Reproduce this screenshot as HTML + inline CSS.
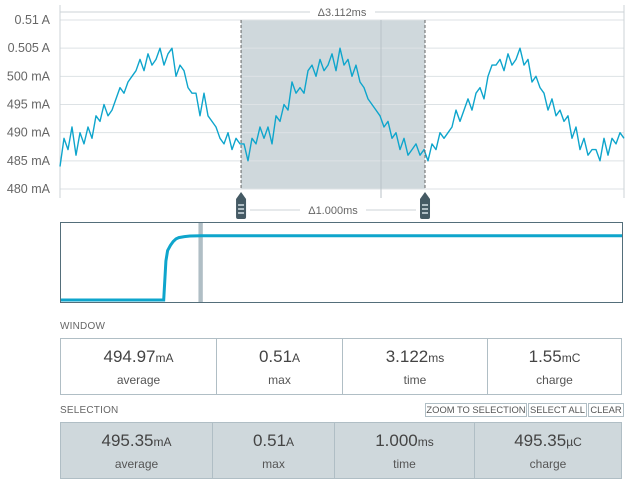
<!DOCTYPE html>
<html><head><meta charset="utf-8">
<style>
body{margin:0;width:643px;height:490px;background:#fff;font-family:"Liberation Sans",sans-serif;position:relative;overflow:hidden;color:#555}
svg{position:absolute;left:0;top:0}
.lbl{position:absolute;font-size:10px;color:#666;letter-spacing:.2px}
.box{position:absolute;left:60px;width:562px;border:1px solid #b0bec5;display:flex;box-sizing:border-box}
.cell{border-right:1px solid #b0bec5;text-align:center;box-sizing:border-box}
.cell:last-child{border-right:none}
.v{font-size:17px;color:#444;margin-top:8px;line-height:20px}
.v small{font-size:12px}
.n{font-size:12px;color:#555;margin-top:5px}
.btns{position:absolute;left:424px;top:403px;height:14px;display:flex}
.btn{border:1px solid #b0bec5;font-size:9.4px;color:#555;line-height:12px;margin-left:1px;background:#fff;box-sizing:border-box;text-align:center;white-space:nowrap;overflow:hidden}
</style></head><body>
<svg id="chart" width="643" height="310"></svg>
<div class="lbl" style="left:60px;top:321px">WINDOW</div>
<div class="box" style="top:338px;height:57px">
 <div class="cell" style="width:156px"><div class="v">494.97<small>mA</small></div><div class="n">average</div></div>
 <div class="cell" style="width:126px"><div class="v">0.51<small>A</small></div><div class="n">max</div></div>
 <div class="cell" style="width:145px"><div class="v">3.122<small>ms</small></div><div class="n">time</div></div>
 <div class="cell" style="flex:1"><div class="v">1.55<small>mC</small></div><div class="n">charge</div></div>
</div>
<div class="lbl" style="left:60px;top:405px">SELECTION</div>
<div class="btns">
 <div class="btn" style="width:102px">ZOOM TO SELECTION</div>
 <div class="btn" style="width:59px">SELECT ALL</div>
 <div class="btn" style="width:36px">CLEAR</div>
</div>
<div class="box" style="top:422px;height:57px;background:#cfd8dc">
 <div class="cell" style="width:152px"><div class="v">495.35<small>mA</small></div><div class="n">average</div></div>
 <div class="cell" style="width:122px"><div class="v">0.51<small>A</small></div><div class="n">max</div></div>
 <div class="cell" style="width:140px"><div class="v">1.000<small>ms</small></div><div class="n">time</div></div>
 <div class="cell" style="flex:1"><div class="v">495.35<small>µC</small></div><div class="n">charge</div></div>
</div>
<script>
const yTicks=[480,485,490,495,500,505,510];
const yTickLabels=["480 mA","485 mA","490 mA","495 mA","500 mA","0.505 A","0.51 A"];
const windowMs=3.112;
const selStartMs=0.999, selEndMs=2.014;
const currentMa=[484,489,487,491,486,490,488,491,489,493,492,495,493,494,496,498,497,499,500,501,503,501,504,502,503,505,502,504,505,500,502,501,498,497,497,493,497,493,492,491,489,488,490,487,489,488,488,485,489,488,491,489,491,488,493,492,495,494,499,497,498,497,501,502,500,503,501,502,504,501,505,502,503,500,502,499,498,496,495,494,493,491,492,489,490,487,489,486,487,488,486,487,485,488,487,490,489,490,491,494,492,494,496,494,497,498,496,500,502,502,503,501,504,502,503,505,502,503,499,500,498,497,494,496,493,494,492,493,489,491,487,489,486,487,487,485,489,486,489,488,490,489];
const miniTimes=[0,0.183,0.187,0.19,0.195,0.2,0.205,0.21,0.22,0.23,0.25,0.3,0.4,0.5,0.6,0.7,0.8,0.9,1.0];
const miniValues=[0,0,300,380,420,450,470,480,488,492,494,495,495,494,495,495,494,495,494];
const miniViewStart=0.245, miniViewEnd=0.251;

const NS="http://www.w3.org/2000/svg";
const svg=document.getElementById('chart');
function mk(tag,attrs,name,inter){const e=document.createElementNS(NS,tag);for(const k in attrs)e.setAttribute(k,attrs[k]);


svg.appendChild(e);return e;}
const X0=60,X1=624,Y0=189,Y1=20;
const xS=t=>X0+t/windowMs*(X1-X0);
const yS=v=>Y0-(v-480)/30*(Y0-Y1);
mk('rect',{x:xS(selStartMs),y:Y1,width:xS(selEndMs)-xS(selStartMs),height:Y0-Y1,fill:'#cfd8dc'},'selection-area','true');
yTicks.forEach((v,i)=>{
 mk('line',{x1:X0,x2:X1,y1:yS(v),y2:yS(v),stroke:'#dde2e5','stroke-width':1},'y-gridline','false');
 const t=mk('text',{x:50,y:yS(v)+4,'text-anchor':'end','font-size':12.5,fill:'#666','font-family':'Liberation Sans'},'y-tick-label','false');t.textContent=yTickLabels[i];
});
mk('line',{x1:381,x2:381,y1:Y1,y2:198,stroke:'#b8c2c7'},'x-gridline','false');
mk('line',{x1:X0,x2:X0,y1:5,y2:198,stroke:'#ccd3d7'},'y-axis','false');
mk('line',{x1:X1,x2:X1,y1:5,y2:198,stroke:'#ccd3d7'},'right-border','false');
mk('line',{x1:X0,x2:310,y1:12,y2:12,stroke:'#ccd3d7'},'window-span-line','false');
mk('line',{x1:375,x2:X1,y1:12,y2:12,stroke:'#ccd3d7'},'window-span-line','false');
let t=mk('text',{x:342,y:16,'text-anchor':'middle','font-size':11,fill:'#666','font-family':'Liberation Sans'},'window-duration-label','false');t.textContent='Δ3.112ms';
const step=windowMs/(currentMa.length-1);
mk('polyline',{points:currentMa.map((v,i)=>xS(i*step).toFixed(1)+','+yS(v).toFixed(1)).join(' '),fill:'none',stroke:'#0ea5cc','stroke-width':1.4,'stroke-linejoin':'round'},'current-series','false');
[selStartMs,selEndMs].forEach((s,i)=>{
 const x=xS(s);
 mk('line',{x1:x,x2:x,y1:Y1,y2:Y0,stroke:'#666','stroke-dasharray':'3,2'},'cursor-line','false');
 mk('path',{d:`M${x} ${Y0+3} L${x+5} ${Y0+10} L${x+5} ${Y0+28} Q${x+5} ${Y0+30} ${x+3} ${Y0+30} L${x-3} ${Y0+30} Q${x-5} ${Y0+30} ${x-5} ${Y0+28} L${x-5} ${Y0+10} Z`,fill:'#455a64'},i?'right-cursor-handle':'left-cursor-handle','true');
 for(let k=0;k<3;k++)mk('rect',{x:x-3,y:Y0+15+k*4,width:6,height:2,fill:'#b0bec5'},'handle-grip','false');
});
mk('line',{x1:250,x2:300,y1:210,y2:210,stroke:'#ccd3d7'},'selection-span-line','false');
mk('line',{x1:366,x2:416,y1:210,y2:210,stroke:'#ccd3d7'},'selection-span-line','false');
t=mk('text',{x:333,y:214,'text-anchor':'middle','font-size':11,fill:'#666','font-family':'Liberation Sans'},'selection-duration-label','false');t.textContent='Δ1.000ms';
const MX0=61,MX1=622,MY0=300,MY1=222;
const mxS=f=>MX0+f*(MX1-MX0), myS=v=>MY0-v/600*(MY0-MY1)*1.0;
mk('rect',{x:60.5,y:222.5,width:562,height:80,fill:'#fff',stroke:'#546e7a'},'minimap-frame','true');
mk('rect',{x:mxS(miniViewStart),y:223,width:mxS(miniViewEnd)-mxS(miniViewStart)+1,height:79,fill:'#b0bec5'},'minimap-view-window','true');
mk('polyline',{points:miniTimes.map((f,i)=>mxS(f).toFixed(1)+','+myS(miniValues[i]).toFixed(1)).join(' '),fill:'none',stroke:'#0ea5cc','stroke-width':3},'minimap-series','false');
</script>
</body></html>
